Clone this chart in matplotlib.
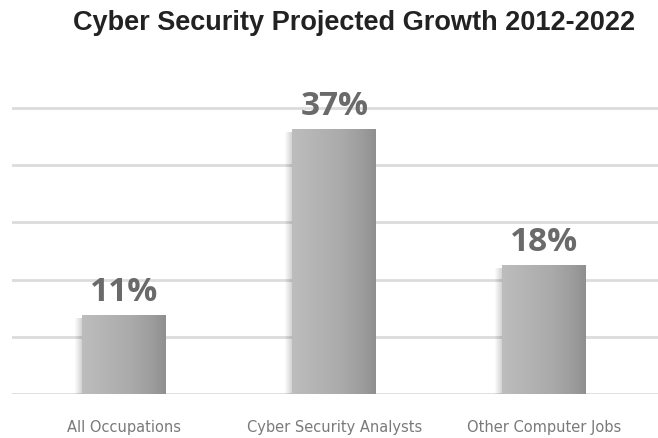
import numpy as np
import matplotlib
matplotlib.use("Agg")
import matplotlib.pyplot as plt
from matplotlib.patches import Rectangle
from matplotlib.colors import LinearSegmentedColormap

categories = ["All Occupations", "Cyber Security Analysts", "Other Computer Jobs"]
growth = [11, 37, 18]
value_labels = ["11%", "37%", "18%"]
grid_levels = [0, 8, 16, 24, 32, 40]

W, H = 658, 438
fig = plt.figure(figsize=(W / 100, H / 100), dpi=100)
fig.patch.set_facecolor("white")

# axes: value 0 sits at y=394px, 7.15 px per percent
ax = fig.add_axes([12 / W, (H - 394) / H, 646 / W, (394 - 70) / H])
ax.set_xlim(-0.536, 2.543)
ax.set_ylim(0, (394 - 70) / 7.15)
ax.axis("off")

for g in grid_levels:
    ax.axhline(g, color="#dcdcdc", lw=2, zorder=0)

width = 0.4
grad = LinearSegmentedColormap.from_list(
    "bar", [(0, "#bdbdbd"), (0.6, "#aaaaaa"), (0.85, "#9c9c9c"), (1, "#8f8f8f")])
gx = np.linspace(0, 1, 256).reshape(1, -1)

for i, v in enumerate(growth):
    x0 = i - width / 2
    # soft shadow on the left
    for k in range(7):
        off = 0.005 * (k + 1)
        ax.add_patch(Rectangle((x0 - off, -0.4), width, v, color="#000000",
                               alpha=0.025, lw=0, zorder=1))
    bar = Rectangle((x0, 0), width, v, facecolor="none", edgecolor="none", zorder=2)
    ax.add_patch(bar)
    im = ax.imshow(gx, cmap=grad, extent=(x0, x0 + width, 0, v), aspect="auto",
                   zorder=2, interpolation="bicubic")
    im.set_clip_path(bar)
    ax.text(i, v + 0.9, value_labels[i], ha="center", va="bottom",
            fontsize=24, fontweight="bold", color="#6a6a6a", family=["Open Sans", "DejaVu Sans"])
    ax.text(i, -4.7, categories[i], ha="center", va="center", fontsize=10.5,
            color="#7a7a7a", family=["DejaVu Sans"])

fig.text(354 / W, 1 - 23 / H, "Cyber Security Projected Growth 2012-2022",
         ha="center", va="center", fontsize=19.5, fontweight="bold",
         color="#222222", family=["Liberation Sans", "DejaVu Sans"])

fig.savefig("out.png", dpi=100)
